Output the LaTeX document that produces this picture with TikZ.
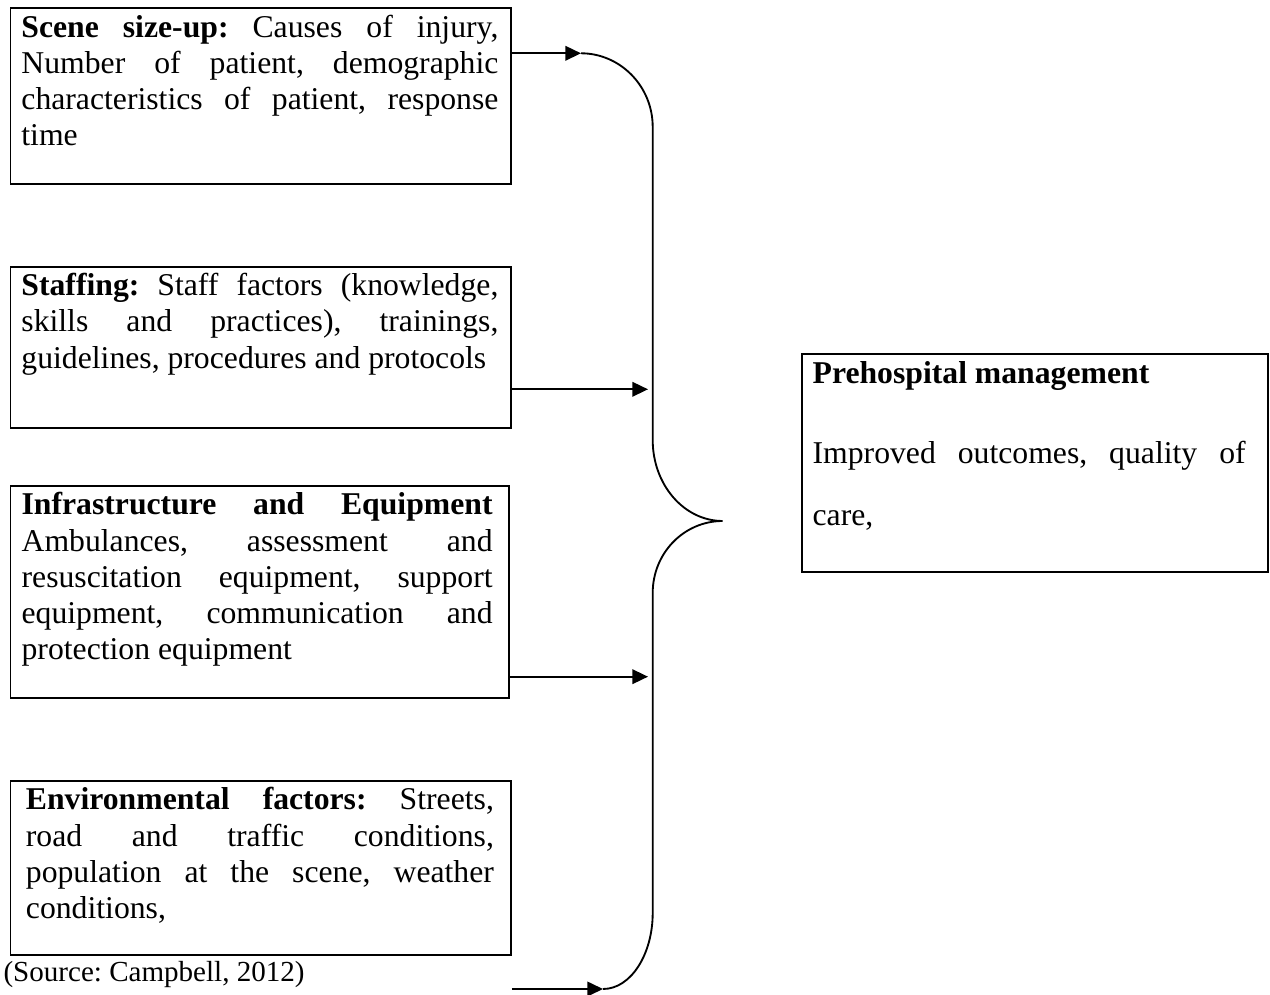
\documentclass[tikz,border=0pt]{standalone}
\usepackage{fontspec}
\setmainfont{Liberation Serif}
\usetikzlibrary{arrows.meta}
\newlength{\pxu}
\setlength{\pxu}{0.3785pt}
\tolerance=10000
\hbadness=10000
\frenchspacing
% box body: width, left pad, text width, height, text
\newcommand{\boxbody}[5]{\makebox[#1][l]{\hspace*{#2}\parbox[t][#4][t]{#3}{\rule{0pt}{29\pxu}#5}}}
\tikzset{
  factorbox/.style={
    draw, line width=0.7pt, inner sep=0pt, anchor=north west
  },
  flowarrow/.style={-{Triangle[length=5.9pt, width=5.5pt]}, line width=0.7pt},
  bracecurve/.style={line width=0.7pt},
}

\begin{document}
\begin{tikzpicture}[x=0.3785pt, y=-0.3785pt, font=\fontsize{12}{13.7}\selectfont]
      \useasboundingbox (0,0) rectangle (1270,995);
      \node[factorbox](scene) at (9.5,7.5)
        {\boxbody{500.5\pxu}{11\pxu}{477\pxu}{175.5\pxu}{\textbf{Scene size-up:} Causes of injury,\linebreak
         Number of patient, demographic\linebreak characteristics of patient, response\linebreak time}};
      \node[factorbox](staff) at (9.5,265.7)
        {\boxbody{500.5\pxu}{11\pxu}{477\pxu}{161.6\pxu}{\textbf{Staffing:} Staff factors (knowledge,\linebreak
         skills and practices), trainings,\linebreak guidelines, procedures and protocols}};
      \node[factorbox](infra) at (9.5,485)
        {\boxbody{498.5\pxu}{11.2\pxu}{471\pxu}{211.7\pxu}{\textbf{Infrastructure and Equipment}\linebreak
         Ambulances, assessment and\linebreak resuscitation equipment, support\linebreak
         equipment, communication and\linebreak protection equipment}};
      \node[factorbox](envir) at (9.5,780)
        {\boxbody{500.5\pxu}{15.5\pxu}{468\pxu}{174\pxu}{\textbf{Environmental factors:} Streets,\linebreak
         road and traffic conditions,\linebreak population at the scene, weather\linebreak conditions,}};
      \node[factorbox](prehosp) at (801,353.5)
        {\boxbody{466\pxu}{10.7\pxu}{433\pxu}{218\pxu}{\textbf{Prehospital management}\par
         \vspace{18\pxu}\baselineskip=62\pxu Improved outcomes, quality of\linebreak care,}};
      \node[anchor=base west, inner sep=0pt, font=\fontsize{11}{12.6}\selectfont](source) at (3,981)
        {(Source: Campbell, 2012)};
      \coordinate (b1) at (581,53.3);
      \coordinate (b2) at (648,389.3);
      \coordinate (b3) at (648,676.7);
      \coordinate (b4) at (603,989);
      \coordinate (tip) at (722.7,521);
      \draw[bracecurve](b1) .. controls (620,53.3) and (652.7,86) .. (652.7,127)
        -- (652.7,440) .. controls (652.7,484.7) and (684,521) .. (tip)
        .. controls (684,521) and (652.7,553) .. (652.7,593)
        -- (652.7,913) .. controls (652.7,954) and (631,989) .. (b4);
      \draw[flowarrow](scene.east |- b1)--(b1);
      \draw[flowarrow](staff.east |- b2)--(b2);
      \draw[flowarrow](infra.east |- b3)--(b3);
      \draw[flowarrow](envir.east |- b4)--(b4);
\end{tikzpicture}
\end{document}
